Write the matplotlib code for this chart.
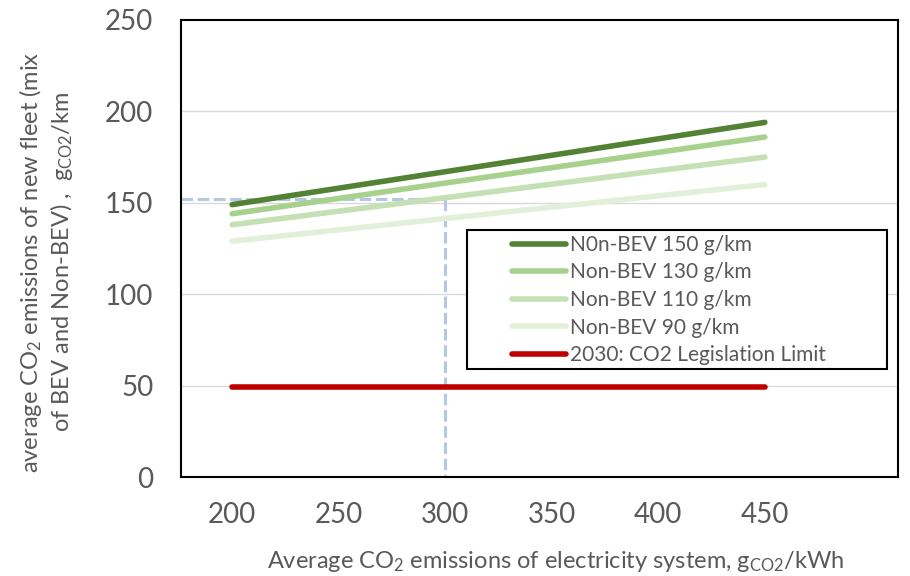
import matplotlib
matplotlib.use("Agg")
import matplotlib.pyplot as plt
from matplotlib.patches import Rectangle

plt.rcParams['font.family'] = ['Lato', 'DejaVu Sans']
plt.rcParams['mathtext.fontset'] = 'custom'
plt.rcParams['mathtext.rm'] = 'Lato'
plt.rcParams['mathtext.it'] = 'Lato:italic'

# Data
x_vals = [200, 450]
nonbev_150 = [149, 194]
nonbev_130 = [144, 186]
nonbev_110 = [138, 175]
nonbev_90 = [129, 160]
limit_2030 = [49, 49]
labels = ["N0n-BEV 150 g/km", "Non-BEV 130 g/km", "Non-BEV 110 g/km",
          "Non-BEV 90 g/km", "2030: CO2 Legislation Limit"]
colors = ["#548235", "#A9D18E", "#C5E0B4", "#E2F0D9", "#C00000"]
ref_x = 300
ref_y = 152
x_ticks = [200, 250, 300, 350, 400, 450]
y_ticks = [0, 50, 100, 150, 200, 250]

W, H = 910, 576
fig = plt.figure(figsize=(W / 100, H / 100), dpi=100)
ax = fig.add_axes([181 / W, 1 - 477 / H, (898 - 181) / W, (477 - 20) / H])
ax.set_xlim(176, 512.5)
ax.set_ylim(0, 250)

for yt in y_ticks[1:-1]:
    ax.axhline(yt, color="#D9D9D9", lw=1.0, zorder=0)

# reference dashed lines
ax.plot([176, ref_x], [ref_y, ref_y], color="#B4C7E7", lw=2.2, dashes=(3.8, 1.5), zorder=1)
ax.plot([ref_x, ref_x], [ref_y, 0], color="#B4C7E7", lw=2.2, dashes=(3.8, 1.5), zorder=1)

series = [nonbev_150, nonbev_130, nonbev_110, nonbev_90, limit_2030]
handles = []
for s, c, l in zip(series, colors, labels):
    h, = ax.plot(x_vals, s, color=c, lw=4, solid_capstyle='round', label=l, zorder=2)
    handles.append(h)
handles[0].set_zorder(3)

ax.set_xticks(x_ticks)
ax.set_yticks(y_ticks)
ax.tick_params(length=0, labelsize=20, labelcolor="#595959")
ax.tick_params(axis='y', pad=20)
ax.tick_params(axis='x', pad=18)
for sp in ax.spines.values():
    sp.set_color("black")
    sp.set_linewidth(1.5)

fig.text(556 / W, 1 - 561 / H,
         r"Average CO$_2$ emissions of electricity system, g$_{\mathrm{CO2}}$/kWh",
         fontsize=17, color="#595959", ha="center", va="center")
fig.text(46 / W, 1 - 262 / H,
         "average CO$_2$ emissions of new fleet (mix\nof BEV and Non-BEV) ,  g$_{\\mathrm{CO2}}$/km",
         fontsize=17, color="#595959", ha="center", va="center", rotation=90,
         multialignment="center", linespacing=1.15)

# legend box
ax.add_patch(Rectangle(((467 - 181) / 717, (477 - 369) / 457), (887 - 467) / 717, (369 - 230) / 457,
                       transform=ax.transAxes, fill=True, facecolor="white",
                       edgecolor="black", lw=1.5, zorder=4))
leg = ax.legend(handles=handles, loc="upper left",
                bbox_to_anchor=((512 - 181) / 717, (477 - 235) / 457),
                frameon=False, fontsize=15, handlelength=2.6, handletextpad=0.2,
                labelspacing=0.36, borderpad=0.0, borderaxespad=0.0)
leg.set_zorder(5)
for t in leg.get_texts():
    t.set_color("#595959")

fig.savefig("out.png", dpi=100)
